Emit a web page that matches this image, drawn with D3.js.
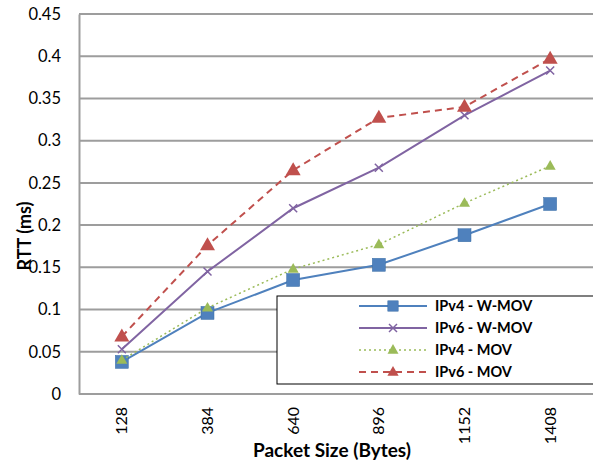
<!DOCTYPE html>
<html><head><meta charset="utf-8">
<script src="https://cdn.jsdelivr.net/npm/d3@7"></script>
<style>body{margin:0;background:#fff}svg{display:block}text{font-family:Lato,"Open Sans",sans-serif}</style>
</head><body><svg id="c" width="593" height="463"></svg>
<script>
const categories = ["128","384","640","896","1152","1408"];
const ipv4WMov = [0.038,0.096,0.135,0.153,0.188,0.225];
const ipv6WMov = [0.053,0.145,0.220,0.268,0.330,0.383];
const ipv4Mov  = [0.040,0.102,0.148,0.177,0.226,0.270];
const ipv6Mov  = [0.068,0.176,0.265,0.327,0.340,0.397];
const yTicks = [0,0.05,0.1,0.15,0.2,0.25,0.3,0.35,0.4,0.45];
const seriesNames = ["IPv4 - W-MOV","IPv6 - W-MOV","IPv4 - MOV","IPv6 - MOV"];

const series = [
  {name:seriesNames[0], values:ipv4WMov, color:"#4F81BD", dash:null, marker:"square", size:13},
  {name:seriesNames[1], values:ipv6WMov, color:"#8064A2", dash:null, marker:"x", size:8},
  {name:seriesNames[2], values:ipv4Mov,  color:"#9BBB59", dash:"2,3", marker:"tri", size:11},
  {name:seriesNames[3], values:ipv6Mov,  color:"#C0504D", dash:"7,5", marker:"tri", size:15}
];

const svg = d3.select("#c");
const L=79, R=593, T=14, B=394;
const x = d3.scaleBand().domain(categories).range([L,R]);
const y = d3.scaleLinear().domain([0,0.45]).range([B,T]);

svg.append("g").selectAll("line").data(yTicks.filter(d=>d>0)).join("line")
  .attr("x1",L).attr("x2",R).attr("y1",d=>y(d)).attr("y2",d=>y(d))
  .attr("stroke","#9d9d9d").attr("stroke-width",2);

const ya = svg.append("g").attr("transform",`translate(${L},0)`)
  .call(d3.axisLeft(y).tickValues(yTicks).tickSize(0).tickPadding(18).tickFormat(d=>d3.format("")(+d.toFixed(2))));
ya.select(".domain").attr("stroke","#9d9d9d").attr("stroke-width",2);
ya.selectAll("text").attr("font-size",16.5).attr("fill","#000");

const xa = svg.append("g").attr("transform",`translate(0,${B})`)
  .call(d3.axisBottom(x).tickSize(0));
xa.select(".domain").attr("stroke","#9d9d9d").attr("stroke-width",2).attr("d",`M${L},0H${R}`);
xa.selectAll("text").attr("font-size",16).attr("fill","#000")
  .attr("transform","rotate(-90)").attr("text-anchor","end")
  .attr("x",-13).attr("y",0).attr("dy","0.35em");

svg.append("text").attr("x",332).attr("y",457).attr("text-anchor","middle")
  .attr("font-weight","bold").attr("font-size",19).text("Packet Size (Bytes)");
svg.append("text").attr("transform","translate(31,236) rotate(-90)").attr("text-anchor","middle")
  .attr("font-weight","bold").attr("font-size",18).text("RTT (ms)");

function drawMarker(g, s, cx, cy, sc){
  const sz = s.size*(sc||1);
  if(s.marker==="square"){
    g.append("rect").attr("x",cx-sz/2).attr("y",cy-sz/2).attr("width",sz).attr("height",sz)
      .attr("fill",s.color).attr("stroke","#3a6ea5").attr("stroke-width",0.5);
  } else if(s.marker==="x"){
    const h=sz/2;
    g.append("path").attr("d",`M${cx-h},${cy-h}L${cx+h},${cy+h}M${cx-h},${cy+h}L${cx+h},${cy-h}`)
      .attr("stroke",s.color).attr("stroke-width",1.5).attr("fill","none");
  } else {
    const h=sz*0.87;
    g.append("path").attr("d",`M${cx},${cy-h*0.62}L${cx+sz/2},${cy+h*0.38}L${cx-sz/2},${cy+h*0.38}Z`)
      .attr("fill",s.color);
  }
}

const line = d3.line().x((d,i)=>x(categories[i])+x.bandwidth()/2).y(d=>y(d));
series.forEach(s=>{
  const g = svg.append("g");
  g.append("path").attr("d",line(s.values)).attr("fill","none").attr("stroke",s.color)
    .attr("stroke-width",s.dash==="2,3"?1.5:2).attr("stroke-dasharray",s.dash);
  s.values.forEach((v,i)=>drawMarker(g,s,x(categories[i])+x.bandwidth()/2,y(v)));
});

const lg = svg.append("g");
lg.append("rect").attr("x",277).attr("y",296).attr("width",330).attr("height",88)
  .attr("fill","#fff").attr("stroke","#000").attr("stroke-width",1);
series.forEach((s,i)=>{
  const yy = 306 + i*22;
  lg.append("line").attr("x1",359).attr("x2",427).attr("y1",yy).attr("y2",yy)
    .attr("stroke",s.color).attr("stroke-width",s.dash==="2,3"?1.5:2).attr("stroke-dasharray",s.dash);
  drawMarker(lg,s,393,yy, s.marker==="square"?0.8:(s.marker==="tri"&&s.size>12?0.75:1));
  lg.append("text").attr("x",435).attr("y",yy).attr("dy","0.35em").attr("font-size",14.5)
    .attr("font-weight","bold").text(s.name);
});
</script></body></html>
